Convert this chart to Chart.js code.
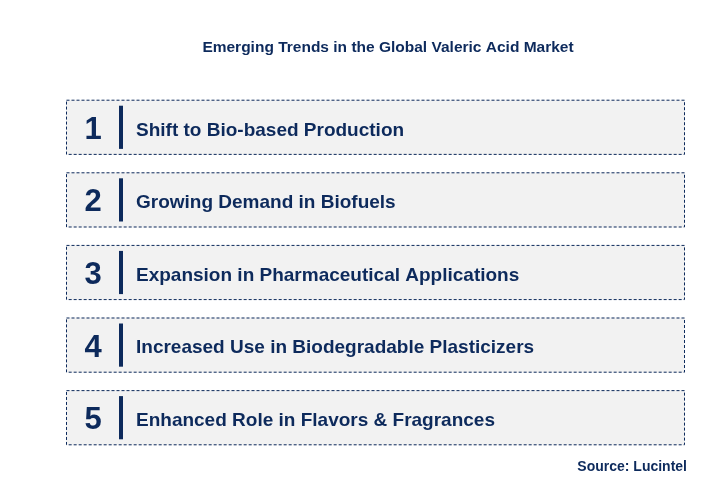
<!DOCTYPE html>
<html><head><meta charset="utf-8">
<script src="https://cdn.jsdelivr.net/npm/chart.js@4/dist/chart.umd.min.js"></script>
<style>html,body{margin:0;padding:0;background:#fff}#w{width:712px;height:481px}</style>
</head><body><div id="w"><canvas id="c"></canvas></div>
<script>
const numbers = ["1","2","3","4","5"];
const trends = ["Shift to Bio-based Production","Growing Demand in Biofuels","Expansion in Pharmaceutical Applications","Increased Use in Biodegradable Plasticizers","Enhanced Role in Flavors & Fragrances"];
const spans = [[0,1],[0,1],[0,1],[0,1],[0,1]];
const titleText = "Emerging Trends in the Global Valeric Acid Market";
const sourceText = "Source: Lucintel";
const NAVY = "#0d2a5c";
const deco = {
  id:'deco',
  afterDatasetsDraw(chart){
    const ctx = chart.ctx;
    const meta = chart.getDatasetMeta(0);
    ctx.save();
    ctx.font = "bold 15.5px Arial, 'Liberation Sans', sans-serif";
    ctx.fillStyle = NAVY; ctx.textAlign='center'; ctx.textBaseline='middle';
    ctx.fillText(titleText, 388, 48);
    meta.data.forEach((b,i)=>{
      const l=b.base, r=b.x, t=b.y-b.height/2, bt=b.y+b.height/2;
      ctx.setLineDash([3,2]); ctx.strokeStyle=NAVY; ctx.lineWidth=1;
      ctx.strokeRect(l+0.5,t+0.5,r-l-1,bt-t-1);
      ctx.setLineDash([]);
      ctx.fillStyle=NAVY;
      ctx.fillRect(l+53, t+6, 4, bt-t-12);
      ctx.font="bold 31px Arial, 'Liberation Sans', sans-serif";
      ctx.textAlign='center';
      ctx.fillText(numbers[i], l+27, b.y+3);
      ctx.font="bold 19px Arial, 'Liberation Sans', sans-serif";
      ctx.textAlign='left';
      ctx.fillText(trends[i], l+70, b.y+3);
    });
    ctx.font="bold 14px Arial, 'Liberation Sans', sans-serif";
    ctx.textAlign='right';
    ctx.fillText(sourceText, 687, 467);
    ctx.restore();
  }
};
new Chart(document.getElementById('c'),{
  type:'bar',
  data:{labels:numbers,datasets:[{data:spans,backgroundColor:'#f2f2f2',borderWidth:0,barPercentage:1,categoryPercentage:0.76}]},
  options:{responsive:true,maintainAspectRatio:false,animation:false,indexAxis:'y',
    layout:{padding:{left:66,right:27,top:91,bottom:27}},
    plugins:{legend:{display:false},tooltip:{enabled:false},title:{display:false}},
    scales:{x:{display:false,min:0,max:1},y:{display:false}}},
  plugins:[deco]
});
</script></body></html>
